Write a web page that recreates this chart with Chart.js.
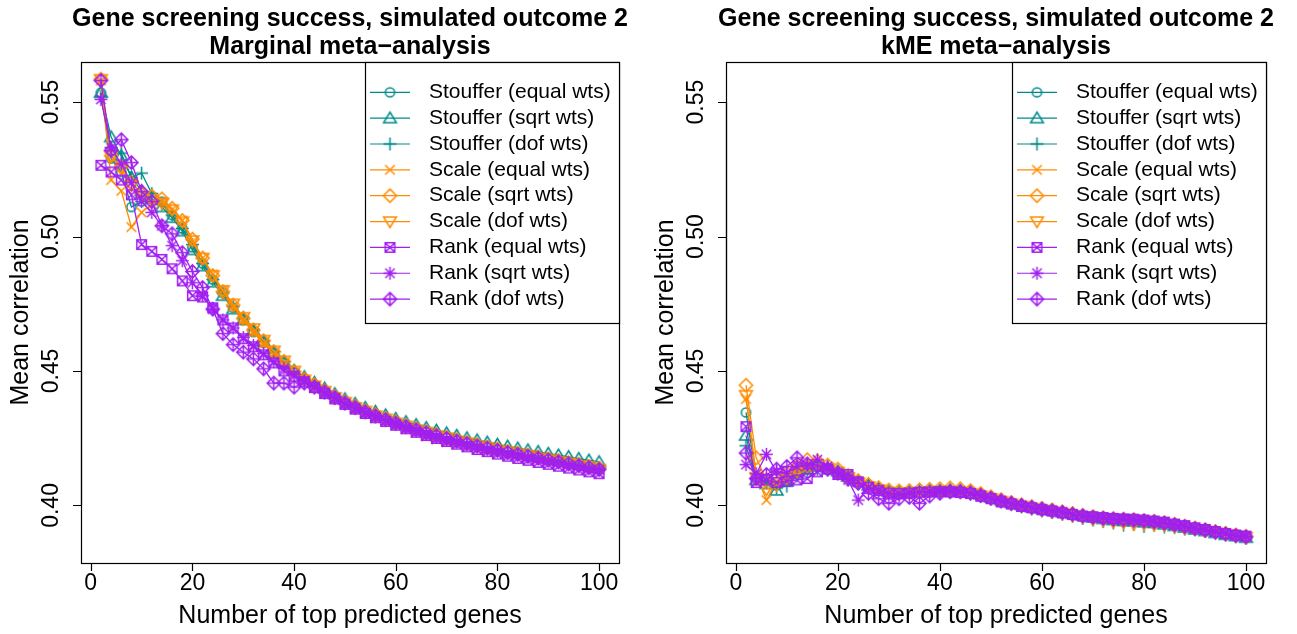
<!DOCTYPE html>
<html>
<head>
<meta charset="utf-8">
<script src="https://cdn.jsdelivr.net/npm/chart.js@4.4.1/dist/chart.umd.min.js"></script>
<style>
  body { margin: 0; background: #fff; }
  #wrap { position: relative; width: 1297px; height: 634px; }
  canvas { position: absolute; top: 0; }
</style>
</head>
<body>
<div id="wrap">
  <canvas id="marginal" width="648" height="634" style="left:0"></canvas>
  <canvas id="kme" width="649" height="634" style="left:648px"></canvas>
</div>
<script>
// number of top predicted genes
const genes = [2,4,6,8,10,12,14,16,18,20,22,24,26,28,30,32,34,36,38,40,
  42,44,46,48,50,52,54,56,58,60,62,64,66,68,70,72,74,76,78,80,
  82,84,86,88,90,92,94,96,98,100];

const seriesNames = ['Stouffer (equal wts)', 'Stouffer (sqrt wts)', 'Stouffer (dof wts)',
  'Scale (equal wts)', 'Scale (sqrt wts)', 'Scale (dof wts)',
  'Rank (equal wts)', 'Rank (sqrt wts)', 'Rank (dof wts)'];

const xTicks = [0, 20, 40, 60, 80, 100];
const yTicks = [0.40, 0.45, 0.50, 0.55];

// --- Marginal meta-analysis ---
const margStoufferEqual = [0.5535,0.529,0.524,0.511,0.513,0.515,0.513,0.508,0.503,0.496,0.490,0.484,0.479,0.4735,0.469,0.4645,0.4605,0.4565,0.453,0.4495,
  0.4471,0.4447,0.4427,0.4404,0.4386,0.4367,0.4353,0.4336,0.4324,0.4309,0.4298,0.4284,0.4275,0.4262,0.4254,0.4242,0.4235,0.4224,0.4218,0.4208,
  0.4202,0.4193,0.4188,0.4179,0.4174,0.4165,0.4160,0.4151,0.4146,0.4138];
const margStoufferSqrt = [0.5535,0.537,0.530,0.522,0.517,0.514,0.511,0.507,0.502,0.495,0.489,0.483,0.478,0.473,0.469,0.465,0.461,0.457,0.4535,0.4502,
  0.4478,0.4457,0.4436,0.4415,0.4396,0.4379,0.4364,0.4349,0.4336,0.4323,0.4311,0.4300,0.4289,0.4279,0.4269,0.4260,0.4251,0.4243,0.4235,0.4227,
  0.4220,0.4213,0.4206,0.4200,0.4193,0.4187,0.4181,0.4174,0.4168,0.4162];
const margStoufferDof = [0.552,0.533,0.531,0.522,0.5236,0.516,0.512,0.508,0.503,0.497,0.490,0.484,0.479,0.474,0.470,0.4655,0.4612,0.4572,0.4535,0.4498,
  0.4472,0.4450,0.4427,0.4407,0.4386,0.4370,0.4353,0.4339,0.4324,0.4312,0.4298,0.4287,0.4275,0.4265,0.4254,0.4245,0.4235,0.4227,0.4218,0.4211,
  0.4202,0.4196,0.4188,0.4182,0.4174,0.4168,0.4160,0.4154,0.4146,0.4140];
const margScaleEqual = [0.558,0.521,0.517,0.5035,0.509,0.512,0.513,0.510,0.506,0.498,0.492,0.486,0.480,0.474,0.469,0.4645,0.4602,0.4562,0.4525,0.4492,
  0.4466,0.4442,0.4420,0.4401,0.4379,0.4363,0.4345,0.4331,0.4315,0.4300,0.4285,0.4270,0.4256,0.4245,0.4234,0.4226,0.4218,0.4210,0.4204,0.4197,
  0.4191,0.4186,0.4180,0.4174,0.4168,0.4161,0.4154,0.4148,0.4140,0.4134];
const margScaleSqrt = [0.5585,0.530,0.526,0.520,0.516,0.515,0.514,0.5105,0.506,0.499,0.492,0.4855,0.4795,0.4745,0.4695,0.4652,0.4612,0.4572,0.4535,0.4498,
  0.4470,0.4449,0.4426,0.4406,0.4385,0.4369,0.4352,0.4338,0.4323,0.4311,0.4297,0.4286,0.4274,0.4264,0.4253,0.4244,0.4234,0.4226,0.4217,0.4210,
  0.4201,0.4195,0.4187,0.4181,0.4173,0.4167,0.4159,0.4153,0.4145,0.4139];
const margScaleDof = [0.5585,0.530,0.525,0.519,0.515,0.5135,0.5125,0.510,0.5055,0.4985,0.492,0.4855,0.480,0.475,0.470,0.4658,0.4615,0.4575,0.4538,0.4500,
  0.4467,0.4445,0.4425,0.4402,0.4384,0.4365,0.4351,0.4334,0.4322,0.4307,0.4296,0.4282,0.4273,0.4260,0.4252,0.4240,0.4233,0.4222,0.4216,0.4206,
  0.4200,0.4191,0.4186,0.4177,0.4172,0.4163,0.4158,0.4149,0.4144,0.4135];
const margRankEqual = [0.5265,0.524,0.521,0.5155,0.497,0.4945,0.4915,0.488,0.4835,0.478,0.4775,0.4735,0.469,0.466,0.462,0.459,0.456,0.453,0.450,0.448,
  0.4460,0.4438,0.4416,0.4396,0.4376,0.4358,0.4342,0.4326,0.4312,0.4298,0.4285,0.4272,0.4260,0.4249,0.4238,0.4228,0.4218,0.4208,0.4200,0.4191,
  0.4183,0.4175,0.4168,0.4160,0.4153,0.4146,0.4139,0.4132,0.4125,0.4118];
const margRankSqrt = [0.551,0.533,0.527,0.520,0.513,0.509,0.504,0.4966,0.491,0.4828,0.478,0.473,0.469,0.466,0.4625,0.4595,0.4565,0.4535,0.451,0.4488,
  0.4463,0.4443,0.4419,0.4400,0.4378,0.4363,0.4345,0.4332,0.4316,0.4305,0.4290,0.4280,0.4267,0.4258,0.4246,0.4238,0.4227,0.4220,0.4210,0.4204,
  0.4194,0.4189,0.4180,0.4175,0.4166,0.4161,0.4152,0.4147,0.4138,0.4133];
const margRankDof = [0.558,0.532,0.536,0.5275,0.5167,0.513,0.504,0.501,0.494,0.487,0.481,0.473,0.4639,0.4598,0.457,0.4545,0.4508,0.4455,0.4455,0.444,
  0.4455,0.4440,0.4422,0.4401,0.4381,0.4364,0.4348,0.4333,0.4319,0.4306,0.4293,0.4281,0.4270,0.4259,0.4249,0.4239,0.4230,0.4221,0.4213,0.4205,
  0.4197,0.4190,0.4183,0.4176,0.4169,0.4162,0.4155,0.4148,0.4141,0.4134];

// --- kME meta-analysis ---
const kmeStoufferEqual = [0.4346,0.4105,0.409,0.4075,0.4095,0.4125,0.414,0.4145,0.4135,0.4125,0.4105,0.4085,0.4072,0.4062,0.4052,0.4049,0.4048,0.4051,0.4053,0.4054,
  0.4056,0.4054,0.4049,0.4037,0.4030,0.4016,0.4010,0.3999,0.3995,0.3986,0.3982,0.3973,0.3969,0.3960,0.3958,0.3951,0.3951,0.3946,0.3947,0.3941,
  0.3941,0.3933,0.3930,0.3920,0.3916,0.3907,0.3903,0.3893,0.3890,0.3882];
const kmeStoufferSqrt = [0.426,0.4095,0.408,0.4056,0.409,0.412,0.4135,0.4145,0.414,0.4128,0.4108,0.409,0.4075,0.4063,0.4053,0.4050,0.4050,0.4052,0.4055,0.4056,
  0.4058,0.4056,0.4050,0.4041,0.4030,0.4020,0.4010,0.4002,0.3994,0.3988,0.3982,0.3975,0.3969,0.3962,0.3955,0.3950,0.3946,0.3943,0.3941,0.3938,
  0.3935,0.3930,0.3924,0.3918,0.3911,0.3905,0.3898,0.3891,0.3886,0.3880];
const kmeStoufferDof = [0.4222,0.410,0.4085,0.4065,0.4072,0.411,0.4125,0.4135,0.4132,0.4122,0.4102,0.4083,0.4068,0.4058,0.4049,0.4046,0.4046,0.4048,0.4050,0.4051,
  0.4050,0.4049,0.4043,0.4034,0.4024,0.4014,0.4003,0.3995,0.3987,0.3980,0.3974,0.3967,0.3960,0.3952,0.3946,0.3940,0.3935,0.3927,0.3930,0.3922,
  0.3927,0.3920,0.3918,0.3912,0.3910,0.3903,0.3897,0.3891,0.3884,0.3878];
const kmeScaleEqual = [0.4396,0.4115,0.402,0.409,0.4115,0.4135,0.414,0.4145,0.4138,0.4126,0.4106,0.4087,0.4071,0.4060,0.4051,0.4047,0.4049,0.4050,0.4053,0.4055,
  0.4055,0.4051,0.4049,0.4036,0.4029,0.4017,0.4009,0.3999,0.3994,0.3986,0.3983,0.3974,0.3969,0.3961,0.3958,0.3952,0.3951,0.3947,0.3947,0.3942,
  0.3941,0.3934,0.3930,0.3921,0.3916,0.3908,0.3903,0.3894,0.3890,0.3883];
const kmeScaleSqrt = [0.4447,0.4177,0.4095,0.4105,0.412,0.4145,0.417,0.4165,0.415,0.4135,0.4112,0.4092,0.4078,0.4066,0.4057,0.4054,0.4055,0.4058,0.4060,0.4062,
  0.4065,0.4062,0.4055,0.4044,0.4032,0.4021,0.4011,0.4002,0.3995,0.3989,0.3983,0.3976,0.3970,0.3963,0.3958,0.3954,0.3951,0.3949,0.3947,0.3944,
  0.3941,0.3936,0.3930,0.3923,0.3916,0.3910,0.3903,0.3896,0.3890,0.3885];
const kmeScaleDof = [0.441,0.4105,0.406,0.4075,0.410,0.4125,0.4145,0.415,0.4138,0.4124,0.4104,0.4085,0.4070,0.4059,0.4050,0.4047,0.4047,0.4049,0.4052,0.4053,
  0.4052,0.4050,0.4045,0.4036,0.4026,0.4016,0.4006,0.3998,0.3990,0.3983,0.3977,0.3970,0.3962,0.3956,0.3949,0.3944,0.3938,0.3935,0.3931,0.3932,
  0.3928,0.3926,0.3921,0.3915,0.3911,0.3906,0.3899,0.3893,0.3887,0.3882];
const kmeRankEqual = [0.4293,0.4085,0.4095,0.4085,0.409,0.4095,0.410,0.4125,0.4135,0.4115,0.4115,0.4088,0.4068,0.4055,0.4046,0.4044,0.4046,0.4049,0.4050,0.4051,
  0.4050,0.4048,0.4044,0.4034,0.4025,0.4013,0.4005,0.3996,0.3991,0.3984,0.3979,0.3972,0.3966,0.3960,0.3958,0.3955,0.3952,0.3950,0.3949,0.3946,
  0.3942,0.3938,0.3931,0.3925,0.3917,0.3911,0.3903,0.3896,0.3890,0.3886];
const kmeRankSqrt = [0.4152,0.4118,0.419,0.4125,0.412,0.4145,0.415,0.417,0.4145,0.4122,0.4095,0.402,0.4065,0.4058,0.4044,0.4042,0.4047,0.4050,0.4052,0.4053,
  0.4054,0.4053,0.4046,0.4039,0.4027,0.4019,0.4007,0.4001,0.3992,0.3988,0.3980,0.3976,0.3967,0.3963,0.3956,0.3954,0.3949,0.3949,0.3945,0.3944,
  0.3939,0.3936,0.3928,0.3923,0.3914,0.3910,0.3901,0.3896,0.3888,0.3885];
const kmeRankDof = [0.4195,0.410,0.4115,0.4135,0.4145,0.4177,0.4155,0.415,0.4135,0.4120,0.4098,0.4082,0.4045,0.4025,0.4008,0.4025,0.403,0.4008,0.4035,0.4045,
  0.4051,0.4051,0.4046,0.4037,0.4027,0.4017,0.4008,0.4000,0.3993,0.3986,0.3980,0.3974,0.3967,0.3961,0.3956,0.3952,0.3949,0.3947,0.3945,0.3942,
  0.3939,0.3934,0.3928,0.3921,0.3914,0.3908,0.3901,0.3894,0.3888,0.3883];

const teal = '#008b8b', orange = '#ff8c00', purple = '#a020f0';
const seriesColors = [teal, teal, teal, orange, orange, orange, purple, purple, purple];
const seriesSymbols = ['circle', 'triangle', 'plus', 'cross', 'diamond', 'triangleDown', 'boxCross', 'asterisk', 'diamondPlus'];

// R-like plotting symbols drawn on small canvases
function makeSymbol(kind, color) {
  const c = document.createElement('canvas');
  c.width = 17; c.height = 17;
  const g = c.getContext('2d');
  const m = 8.5;
  g.strokeStyle = color;
  g.lineWidth = 1.5;
  g.beginPath();
  const plus = r => { g.moveTo(m - r, m); g.lineTo(m + r, m); g.moveTo(m, m - r); g.lineTo(m, m + r); };
  const cross = r => { g.moveTo(m - r, m - r); g.lineTo(m + r, m + r); g.moveTo(m - r, m + r); g.lineTo(m + r, m - r); };
  const diamond = r => { g.moveTo(m, m - r); g.lineTo(m + r, m); g.lineTo(m, m + r); g.lineTo(m - r, m); g.closePath(); };
  switch (kind) {
    case 'circle': g.arc(m, m, 4.6, 0, Math.PI * 2); break;
    case 'triangle': g.moveTo(m, m - 6); g.lineTo(m + 6.4, m + 4.6); g.lineTo(m - 6.4, m + 4.6); g.closePath(); break;
    case 'triangleDown': g.moveTo(m, m + 6); g.lineTo(m + 6.4, m - 4.6); g.lineTo(m - 6.4, m - 4.6); g.closePath(); break;
    case 'plus': plus(6.5); break;
    case 'cross': cross(4.8); break;
    case 'diamond': diamond(6.6); break;
    case 'boxCross': g.rect(m - 4.8, m - 4.8, 9.6, 9.6); cross(4.8); break;
    case 'asterisk': plus(6.4); cross(4.7); break;
    case 'diamondPlus': diamond(6.6); plus(6.6); break;
  }
  g.stroke();
  return c;
}

const symbols = seriesSymbols.map((s, i) => makeSymbol(s, seriesColors[i]));

const font = '"Liberation Sans", Arial, Helvetica, sans-serif';

// draws box, axes, titles and legend the way base R does
const rBase = {
  id: 'rBase',
  afterDatasetsDraw(chart, args, opts) {
    const ctx = chart.ctx;
    const a = chart.chartArea;
    const xs = chart.scales.x, ys = chart.scales.y;
    const cx = (a.left + a.right) / 2;
    ctx.save();
    ctx.strokeStyle = '#000';
    ctx.fillStyle = '#000';
    ctx.lineWidth = 1.2;
    ctx.strokeRect(a.left + 0.5, a.top + 0.5, a.right - a.left, a.bottom - a.top);

    // x axis
    ctx.beginPath();
    const x0 = xs.getPixelForValue(xTicks[0]), x1 = xs.getPixelForValue(xTicks[xTicks.length - 1]);
    ctx.moveTo(x0, a.bottom + 0.5); ctx.lineTo(x1, a.bottom + 0.5);
    xTicks.forEach(v => {
      const px = Math.round(xs.getPixelForValue(v)) + 0.5;
      ctx.moveTo(px, a.bottom); ctx.lineTo(px, a.bottom + 8);
    });
    // y axis
    const y0 = ys.getPixelForValue(yTicks[0]), y1 = ys.getPixelForValue(yTicks[yTicks.length - 1]);
    ctx.moveTo(a.left + 0.5, y0); ctx.lineTo(a.left + 0.5, y1);
    yTicks.forEach(v => {
      const py = Math.round(ys.getPixelForValue(v)) + 0.5;
      ctx.moveTo(a.left - 8, py); ctx.lineTo(a.left, py);
    });
    ctx.stroke();

    ctx.font = '23px ' + font;
    ctx.textAlign = 'center';
    ctx.textBaseline = 'middle';
    xTicks.forEach(v => ctx.fillText(String(v), xs.getPixelForValue(v), a.bottom + 21));
    yTicks.forEach(v => {
      ctx.save();
      ctx.translate(a.left - 29, ys.getPixelForValue(v));
      ctx.rotate(-Math.PI / 2);
      ctx.fillText(v.toFixed(2), 0, 0);
      ctx.restore();
    });

    // axis titles
    ctx.font = '25px ' + font;
    ctx.fillText('Number of top predicted genes', cx, a.bottom + 53);
    ctx.save();
    ctx.translate(a.left - 60, (a.top + a.bottom) / 2);
    ctx.rotate(-Math.PI / 2);
    ctx.fillText('Mean correlation', 0, 0);
    ctx.restore();

    // main title
    ctx.font = 'bold 25px ' + font;
    ctx.fillText(opts.title[0], cx, 19);
    ctx.fillText(opts.title[1], cx, 47);

    // legend
    const lx = a.right - 254, top = a.top, bottom = 323;
    ctx.fillStyle = '#fff';
    ctx.fillRect(lx, top, a.right - lx, bottom - top);
    ctx.strokeRect(lx + 0.5, top + 0.5, a.right - lx, bottom - top);
    ctx.font = '21px ' + font;
    ctx.textAlign = 'left';
    seriesNames.forEach((name, i) => {
      const ry = 92.3 + i * 25.85;
      ctx.strokeStyle = seriesColors[i];
      ctx.beginPath();
      ctx.moveTo(lx + 5, ry); ctx.lineTo(lx + 45, ry);
      ctx.stroke();
      ctx.drawImage(symbols[i], lx + 25 - 8.5, ry - 8.5);
      ctx.fillStyle = '#000';
      ctx.fillText(name, lx + 64, ry);
    });
    ctx.restore();
  }
};

function buildChart(canvasId, subtitle, values, pad) {
  const datasets = values.map((vals, i) => ({
    label: seriesNames[i],
    data: genes.map((g, j) => ({ x: g, y: vals[j] })),
    borderColor: seriesColors[i],
    backgroundColor: seriesColors[i],
    borderWidth: 1.3,
    pointStyle: symbols[i],
    pointRadius: 5,
    tension: 0,
    fill: false,
    order: values.length - i
  }));
  return new Chart(document.getElementById(canvasId), {
    type: 'line',
    data: { datasets },
    options: {
      responsive: false,
      animation: false,
      devicePixelRatio: 1,
      layout: { padding: pad },
      scales: {
        x: { type: 'linear', min: -1.92, max: 103.92, display: false },
        y: { type: 'linear', min: 0.3786, max: 0.5649, display: false }
      },
      plugins: {
        legend: { display: false },
        tooltip: { enabled: false },
        rBase: { title: ['Gene screening success, simulated outcome 2', subtitle] }
      }
    },
    plugins: [rBase]
  });
}

buildChart('marginal', 'Marginal meta\u2212analysis',
  [margStoufferEqual, margStoufferSqrt, margStoufferDof, margScaleEqual, margScaleSqrt, margScaleDof,
   margRankEqual, margRankSqrt, margRankDof],
  { left: 81, right: 29, top: 62, bottom: 71 });

buildChart('kme', 'kME meta\u2212analysis',
  [kmeStoufferEqual, kmeStoufferSqrt, kmeStoufferDof, kmeScaleEqual, kmeScaleSqrt, kmeScaleDof,
   kmeRankEqual, kmeRankSqrt, kmeRankDof],
  { left: 78, right: 31, top: 62, bottom: 71 });
</script>
</body>
</html>
